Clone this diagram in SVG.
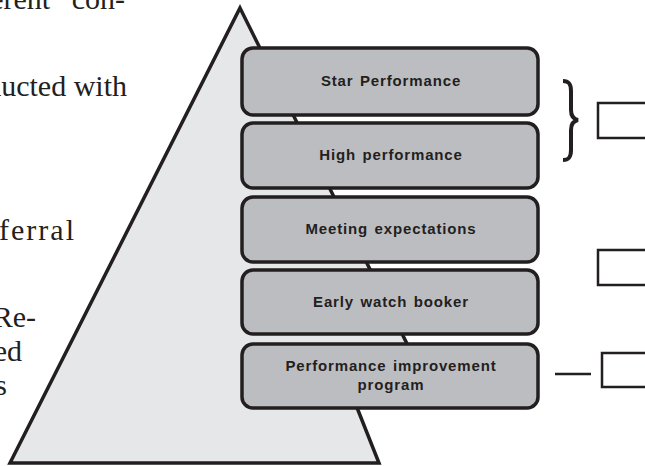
<svg xmlns="http://www.w3.org/2000/svg" width="645" height="466" viewBox="0 0 645 466">
  <style>
    .body { font-family: "Liberation Serif", "Times New Roman", serif; font-size: 30px; fill: #231f20; text-anchor: end; }
    .tier rect { fill: #bcbdc0; stroke: #231f20; stroke-width: 3.5; }
    .tier text { font-family: "Liberation Sans", Arial, sans-serif; font-weight: bold; font-size: 15px; fill: #231f20; text-anchor: middle; letter-spacing: 0.85px; word-spacing: 1.5px; }
    .tag { fill: #ffffff; stroke: #231f20; stroke-width: 2.5; }
    .link { fill: none; stroke: #231f20; }
  </style>

  <rect width="645" height="466" fill="#ffffff"/>

  <!-- running text of the page, wrapping around the figure -->
  <g id="page-text">
    <text class="body" x="125" y="9" word-spacing="14">erent con-</text>
    <text class="body" x="127" y="96">ducted with</text>
    <text class="body" x="76" y="240" letter-spacing="2">ferral</text>
    <text class="body" x="36" y="327">Re-</text>
    <text class="body" x="22" y="361">ed</text>
    <text class="body" x="7" y="395">s</text>
  </g>

  <!-- pyramid backdrop -->
  <g id="pyramid">
    <polygon points="240,8 430,390 352,395 379,463 10,463" fill="#e6e7e8" stroke="#231f20" stroke-width="3.5" stroke-linejoin="miter"/>
  </g>

  <!-- performance tiers -->
  <g id="tier-star" class="tier">
    <rect x="242" y="48" width="296" height="67" rx="11"/>
    <text x="391" y="86">Star Performance</text>
  </g>
  <g id="tier-high" class="tier">
    <rect x="242" y="123" width="296" height="65" rx="11"/>
    <text x="391" y="160">High performance</text>
  </g>
  <g id="tier-meeting" class="tier">
    <rect x="242" y="197" width="296" height="65" rx="11"/>
    <text x="391" y="234">Meeting expectations</text>
  </g>
  <g id="tier-early" class="tier">
    <rect x="242" y="270" width="296" height="64" rx="11"/>
    <text x="391" y="307">Early watch booker</text>
  </g>
  <g id="tier-pip" class="tier">
    <rect x="242" y="344" width="296" height="64" rx="11"/>
    <text x="391" y="371">Performance improvement</text>
    <text x="391" y="390">program</text>
  </g>

  <!-- outcome boxes at the right -->
  <g id="outcome-top"><rect class="tag" x="598" y="103" width="60" height="35"/></g>
  <g id="outcome-middle"><rect class="tag" x="598" y="250" width="60" height="35"/></g>
  <g id="outcome-bottom"><rect class="tag" x="602" y="353" width="60" height="34"/></g>

  <!-- connectors: brace and dash -->
  <g id="connectors">
    <path class="link" stroke-width="4" d="M563,81 C569,81 571,84 571,91 L571,110 C571,116 573,119 578,120 C573,121 571,124 571,130 L571,150 C571,157 569,160 563,160"/>
    <line class="link" stroke-width="2.5" x1="555" y1="374" x2="591" y2="374"/>
  </g>
</svg>
